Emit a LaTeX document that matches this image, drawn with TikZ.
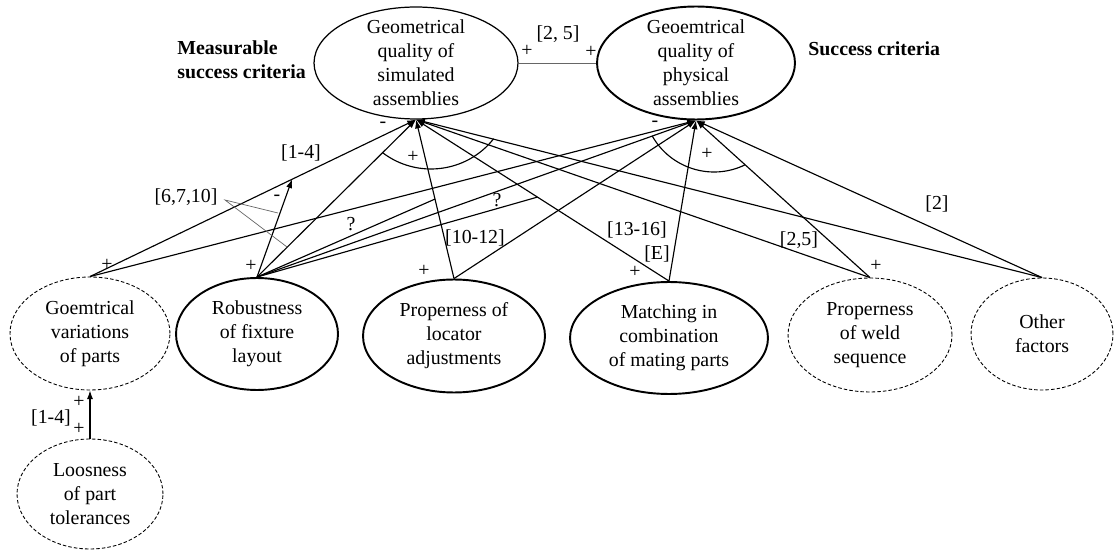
\documentclass[tikz,border=0pt]{standalone}
\usepackage{fontspec}
\setmainfont{Liberation Serif}
\usetikzlibrary{shapes.geometric,arrows.meta,calc}

\tikzset{
  factor/.style={ellipse, draw, align=center, inner xsep=0pt, inner ysep=-6pt},
  strong/.style={factor, line width=1.1pt},
  weak/.style={factor, line width=0.5pt, dash pattern=on 2pt off 1.2pt},
  link/.style={line width=0.65pt},
  callout/.style={line width=0.4pt, black!60},
  lbl/.style={inner sep=0pt}
}

\begin{document}
\begin{tikzpicture}[x=0.02cm, y=-0.02cm, >={Latex[length=5pt,width=3.5pt]},
  every node/.style={font=\fontsize{11.3}{13.6}\selectfont}]
  \useasboundingbox (0,0) rectangle (1115,550);
  % success criteria
  \node[factor, line width=0.7pt, minimum width=4.08cm, minimum height=2.24cm] (sim) at (416,63) {Geometrical\\quality of\\simulated\\assemblies};
  \node[strong, minimum width=3.96cm, minimum height=2.26cm] (phys) at (696,63) {Geoemtrical\\quality of\\physical\\assemblies};
  \node[lbl, anchor=west, align=left, font=\fontsize{11.3}{13.6}\selectfont\bfseries] (msc) at (177,60) {Measurable\\success criteria};
  \node[lbl, anchor=west, font=\fontsize{11.3}{13.6}\selectfont\bfseries] (sc) at (808,49) {Success criteria};
  % factors
  \node[weak, minimum width=3.2cm, minimum height=2.26cm] (geo) at (90,333.5) {Goemtrical\\variations\\of parts};
  \node[strong, minimum width=3.24cm, minimum height=2.24cm] (rob) at (257,334) {Robustness\\of fixture\\layout};
  \node[strong, minimum width=3.64cm, minimum height=2.26cm] (loc) at (454,336) {Properness of\\locator\\adjustments};
  \node[strong, minimum width=3.96cm, minimum height=2.24cm] (mat) at (669,338) {Matching in\\combination\\of mating parts};
  \node[weak, minimum width=3.28cm, minimum height=2.28cm] (weld) at (870,335) {Properness\\of weld\\sequence};
  \node[weak, minimum width=2.84cm, minimum height=2.24cm] (oth) at (1042,334) {Other\\factors};
  \node[weak, minimum width=2.92cm, minimum height=2.2cm] (loos) at (90,494) {Loosness\\of part\\tolerances};

  \draw[callout] (sim) -- (phys);
  \foreach \f in {geo,rob,loc,mat,weld,oth} {
    \draw[link,->] (\f.north) -- (sim.south);
    \draw[link,->] (\f.north) -- (phys.south);
  }
  \draw[link,->] (loos.north) -- (geo.south);

  % moderating links of the fixture layout
  \coordinate (m1) at ($(geo.north)!0.62!(sim.south)$);
  \coordinate (m2) at ($(loc.north)!0.5!(sim.south)$);
  \coordinate (m3) at ($(mat.north)!0.52!(sim.south)$);
  \draw[link,->] (rob.north) -- (m1);
  \draw[link] (rob.north) -- (m2);
  \draw[link] (rob.north) -- (m3);
  \coordinate (c0) at (225,200);
  \coordinate (c1) at (278,213);
  \coordinate (c2) at ($(rob.north)!0.19!(sim.south)$);
  \draw[callout] (c1) -- (c0) -- (c2);

  % arcs
  \draw[link] (431,89) ++(127.4:80) arc[start angle=127.4, end angle=38.4, radius=80];
  \draw[link] (714,101) ++(150.6:71) arc[start angle=150.6, end angle=64.2, radius=71];

  % signs
  \node[lbl] (s1) at (527,51) {+};
  \node[lbl] (s2) at (591,52) {+};
  \node[lbl] (s3) at (383,125) {-};
  \node[lbl] (s4) at (655,124) {-};
  \node[lbl] (s5) at (413,157) {+};
  \node[lbl] (s6) at (707,154) {+};
  \node[lbl] (s7) at (277,198) {-};
  \node[lbl] (s8) at (107,265) {+};
  \node[lbl] (s9) at (251,266) {+};
  \node[lbl] (s10) at (424,271) {+};
  \node[lbl] (s11) at (635,272) {+};
  \node[lbl] (s12) at (876,266) {+};
  \node[lbl] (s13) at (79,402) {+};
  \node[lbl] (s14) at (79,429) {+};
  \node[lbl] (q1) at (351,224) {?};
  \node[lbl] (q2) at (497,200) {?};

  % references
  \node[lbl] (r1) at (558,34) {[2, 5]};
  \node[lbl] (r2) at (301,153) {[1-4]};
  \node[lbl] (r3) at (186,197) {[6,7,10]};
  \node[lbl] (r4) at (475,238) {[10-12]};
  \node[lbl] (r5) at (637,230) {[13-16]};
  \node[lbl] (r6) at (657,254) {[E]};
  \node[lbl] (r7) at (799,240) {[2,5]};
  \node[lbl] (r8) at (937,204) {[2]};
  \node[lbl] (r9) at (51,418) {[1-4]};
\end{tikzpicture}
\end{document}
